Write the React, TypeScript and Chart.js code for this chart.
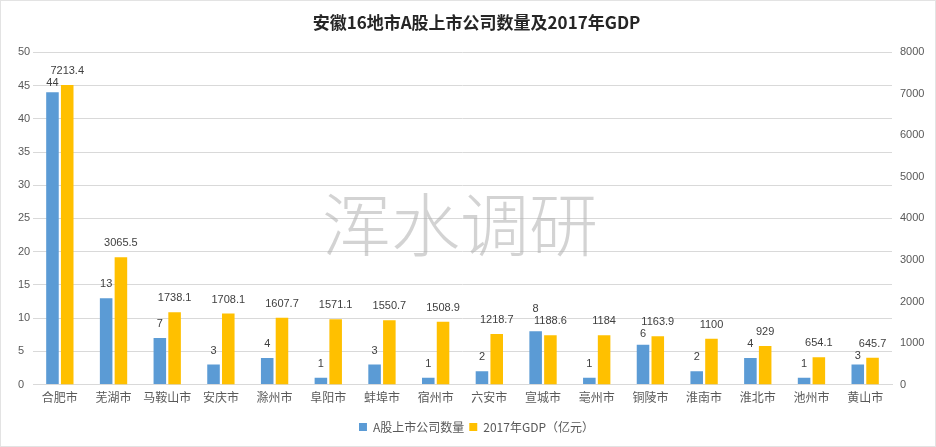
import React, { useEffect, useRef } from "react";
import { Chart, registerables } from "chart.js";

Chart.register(...registerables);

const categories = ["合肥市", "芜湖市", "马鞍山市", "安庆市", "滁州市", "阜阳市", "蚌埠市", "宿州市", "六安市", "宣城市", "亳州市", "铜陵市", "淮南市", "淮北市", "池州市", "黄山市"];
const companyCounts = [44, 13, 7, 3, 4, 1, 3, 1, 2, 8, 1, 6, 2, 4, 1, 3];
const gdpValues = [7213.4, 3065.5, 1738.1, 1708.1, 1607.7, 1571.1, 1550.7, 1508.9, 1218.7, 1188.6, 1184, 1163.9, 1100, 929, 654.1, 645.7];
const leftTicks = [0, 5, 10, 15, 20, 25, 30, 35, 40, 45, 50];
const rightTicks = [0, 1000, 2000, 3000, 4000, 5000, 6000, 7000, 8000];
const titleText = "安徽16地市A股上市公司数量及2017年GDP";
const seriesNames = ["A股上市公司数量", "2017年GDP（亿元）"];
const watermarkText = "浑水调研";

const FONT = "'Noto Sans CJK SC', 'Noto Sans', sans-serif";
const NUM_FONT = "'Liberation Sans', 'Noto Sans', sans-serif";

const valueLabels = {
  id: "valueLabels",
  afterDatasetsDraw(chart: any) {
    const ctx = chart.ctx;
    ctx.save();
    ctx.font = `11px ${NUM_FONT}`;
    ctx.fillStyle = "#404040";
    ctx.textAlign = "center";
    ctx.textBaseline = "middle";
    const m0 = chart.getDatasetMeta(0);
    const m1 = chart.getDatasetMeta(1);
    const d0 = chart.data.datasets[0].data;
    const d1 = chart.data.datasets[1].data;
    const gap = 14;
    const minSep = 12;
    m0.data.forEach((el0: any, i: number) => {
      const el1 = m1.data[i];
      const t0 = String(d0[i]);
      const t1 = String(d1[i]);
      const w0 = ctx.measureText(t0).width;
      const w1 = ctx.measureText(t1).width;
      let y0 = el0.y - gap;
      const y1 = el1.y - gap;
      const overlapX = el0.x + w0 / 2 > el1.x - w1 / 2;
      if (overlapX && Math.abs(y0 - y1) < minSep) {
        y0 = y0 >= y1 ? y1 + minSep : y1 - minSep;
      }
      ctx.fillText(t0, el0.x, y0);
      ctx.fillText(t1, el1.x, y1);
    });
    ctx.restore();
  },
};

const watermark = {
  id: "watermark",
  afterDatasetsDraw(chart: any) {
    const ctx = chart.ctx;
    ctx.save();
    ctx.font = `300 69px ${FONT}`;
    ctx.fillStyle = "rgba(175,175,175,0.55)";
    ctx.textAlign = "center";
    ctx.textBaseline = "middle";
    ctx.fillText(watermarkText, 459, 224);
    ctx.restore();
  },
};

export default function App() {
  const ref = useRef<HTMLCanvasElement>(null);
  useEffect(() => {
    if (!ref.current) return;
    const chart = new Chart(ref.current, {
      type: "bar",
      data: {
        labels: categories,
        datasets: [
          {
            label: seriesNames[0],
            data: companyCounts,
            backgroundColor: "#5B9BD5",
            yAxisID: "y",
            categoryPercentage: 0.55,
            barPercentage: 0.85,
          },
          {
            label: seriesNames[1],
            data: gdpValues,
            backgroundColor: "#FFC000",
            yAxisID: "y1",
            categoryPercentage: 0.55,
            barPercentage: 0.85,
          },
        ],
      },
      options: {
        responsive: false,
        animation: false,
        layout: { padding: { left: 17, right: 0, top: 0, bottom: 3 } },
        plugins: {
          title: {
            display: true,
            text: titleText,
            color: "#262626",
            font: { family: FONT, size: 17, weight: "bold" },
            padding: { top: 11, bottom: 20 },
          },
          legend: {
            display: true,
            position: "bottom",
            labels: {
              boxWidth: 8,
              boxHeight: 8,
              padding: 5,
              color: "#595959",
              font: { family: FONT, size: 12 },
            },
          },
          tooltip: { enabled: false },
        },
        scales: {
          x: {
            grid: { display: false, drawTicks: false },
            border: { display: true, color: "#d9d9d9" },
            afterFit: (s: any) => { s.height = 31.5; },
            ticks: { color: "#595959", font: { family: FONT, size: 12 }, padding: 6, maxRotation: 0, autoSkip: false },
          },
          y: {
            position: "left",
            min: 0,
            max: 50,
            afterBuildTicks: (s: any) => { s.ticks = leftTicks.map((v) => ({ value: v })); },
            afterFit: (s: any) => { s.width = 15; },
            grid: { color: "#d9d9d9", drawTicks: false },
            border: { display: false },
            ticks: { color: "#595959", font: { family: NUM_FONT, size: 11 }, crossAlign: "far", padding: 0 },
          },
          y1: {
            position: "right",
            min: 0,
            max: 8000,
            afterBuildTicks: (s: any) => { s.ticks = rightTicks.map((v) => ({ value: v })); },
            afterFit: (s: any) => { s.width = 43; },
            grid: { display: false, drawTicks: false },
            border: { display: false },
            ticks: { color: "#595959", font: { family: NUM_FONT, size: 11 }, padding: 8, callback: (v: any) => String(v) },
          },
        },
      },
      plugins: [watermark, valueLabels],
    });
    return () => chart.destroy();
  }, []);
  return (
    <div style={{ position: "fixed", left: 0, top: 0, width: 936, height: 447, background: "#fff", boxSizing: "border-box", border: "1px solid #e3e3e3" }}>
      <canvas ref={ref} width={934} height={445} style={{ display: "block" }} />
    </div>
  );
}
